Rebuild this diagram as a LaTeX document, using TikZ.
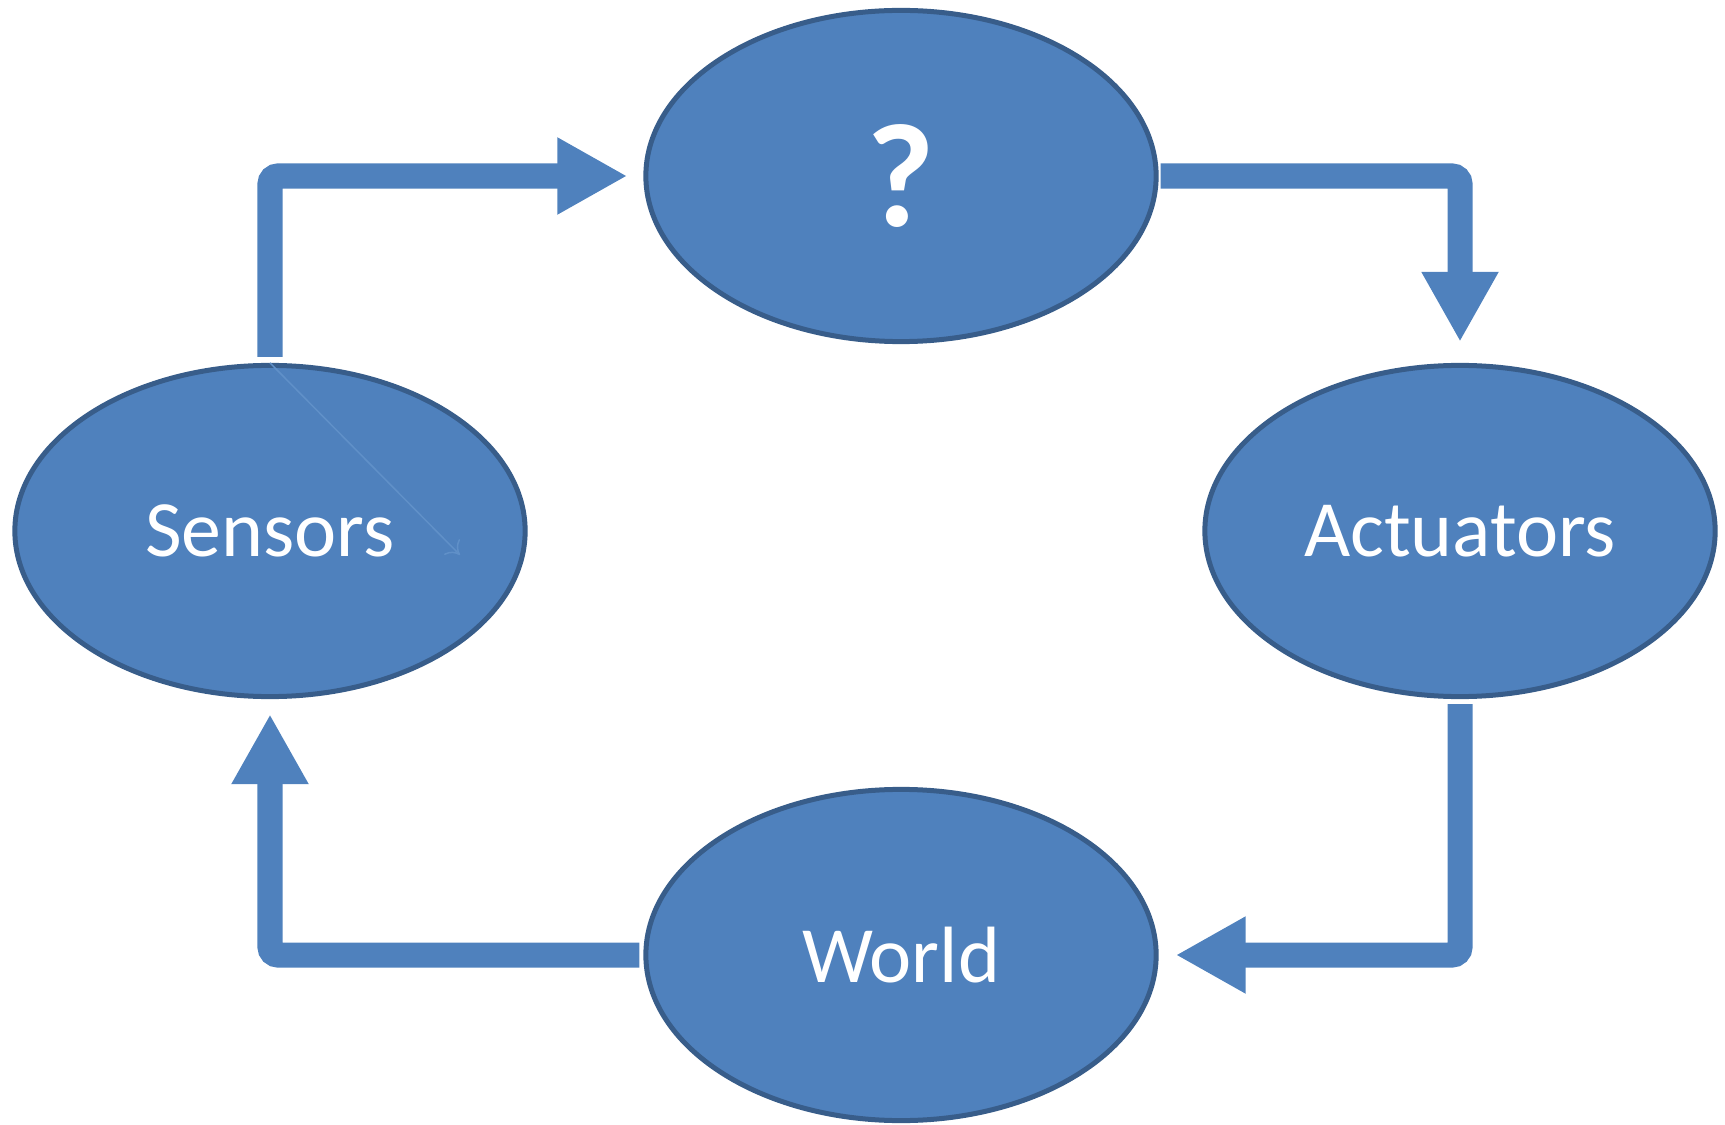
\documentclass[tikz,border=0pt]{standalone}
\usepackage{fontspec}
\setmainfont{Carlito}
\usetikzlibrary{arrows.meta,shapes.geometric}
\definecolor{boxblue}{HTML}{4F81BD}
\definecolor{rimblue}{HTML}{385D8A}
\definecolor{faintblue}{HTML}{6090C8}
\begin{document}
\begin{tikzpicture}[x=0.01cm, y=-0.01cm,
    stage/.style={ellipse, draw=rimblue, line width=0.05cm, fill=boxblue,
      minimum width=5.1cm, minimum height=3.31cm, inner sep=0pt,
      text=white, font=\fontsize{22.7}{27}\selectfont},
    flow/.style={draw=boxblue, line width=0.25cm, rounded corners=0.08cm,
      -{Triangle[length=0.7cm, width=0.72cm]}}]
    \useasboundingbox (0,0) rectangle (1725,1125);
    % the four stages of the loop
    \node[stage] (think) at (901,176) {\raisebox{-0.04cm}{\fontsize{42}{50}\bfseries ?}};
    \node[stage] (sens) at (270,531) {Sensors};
    \node[stage] (act) at (1460,531) {Actuators};
    \node[stage] (world) at (901,955) {World};
    % loop arrows
    \path[flow, shorten <=0.06cm, shorten >=0.16cm] (sens.north) |- (think.west);
    \path[flow, shorten <=0.02cm, shorten >=0.21cm] (think.east) -| (act.north);
    \path[flow, shorten <=0.05cm, shorten >=0.17cm] (act.south) |- (world.east);
    \path[flow, shorten <=0.04cm, shorten >=0.15cm] (world.west) -| (sens.south);
    % stray thin arrow
    \coordinate (stray) at (460,555);
    \path[draw=faintblue, line width=0.015cm, -{To[length=0.12cm, width=0.22cm]}] (sens.north) -- (stray);
\end{tikzpicture}
\end{document}
